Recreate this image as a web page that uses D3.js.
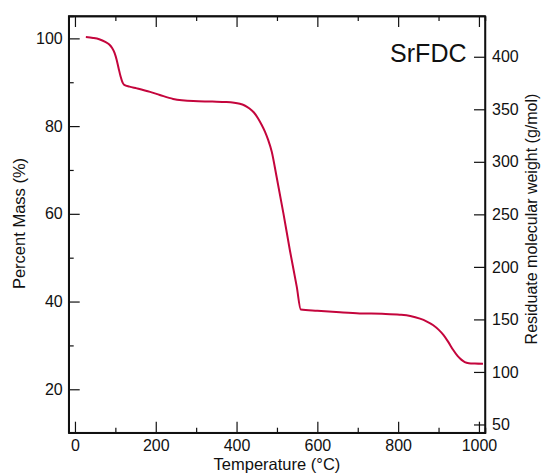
<!DOCTYPE html>
<html>
<head>
<meta charset="utf-8">
<script src="https://cdn.jsdelivr.net/npm/d3@7"></script>
<style>
  body { margin: 0; background: #fff; }
  text { font-family: "Liberation Sans", Arial, Helvetica, sans-serif; fill: #111; }
  .axis path, .axis line { stroke: #111; }
</style>
</head>
<body>
<div class="tga-graph"></div>
<script>
const temps = [27, 45, 60, 75, 85, 92, 98, 103, 108, 113, 118, 122, 135, 153, 186, 210, 243, 293, 340, 375,
  408, 420, 432, 443, 453, 462, 470, 478, 487, 499, 516, 532, 549, 559, 600, 656, 705, 760,
  804, 830, 854, 870, 887, 900, 912, 924, 936, 947, 957, 965, 975, 990, 1010];
const mass = [100.3, 100.1, 99.8, 99.2, 98.6, 97.8, 96.7, 95.2, 93.2, 91.3, 89.9, 89.4, 89.0, 88.6, 87.8, 87.1, 86.2, 85.7, 85.6, 85.5,
  85.1, 84.7, 84.0, 83.1, 81.8, 80.3, 78.8, 76.9, 74.2, 68.5, 60.1, 51.7, 43.4, 38.2, 37.9, 37.55, 37.3, 37.2,
  37.0, 36.7, 36.1, 35.5, 34.6, 33.6, 32.4, 30.8, 29.0, 27.6, 26.7, 26.2, 25.95, 25.85, 25.8];

const xMajor = [0, 200, 400, 600, 800, 1000];
const xMinor = [100, 300, 500, 700, 900];
const yMajor = [20, 40, 60, 80, 100];
const yMinor = [30, 50, 70, 90];
const rMajor = [50, 100, 150, 200, 250, 300, 350, 400];
const molarMass = 417.5;
const sampleName = "SrFDC";

const width = 545, height = 476;
const margin = { top: 16, right: 60, bottom: 43.3, left: 68.7 };
const w = width - margin.left - margin.right;
const h = height - margin.top - margin.bottom;

const svg = d3.select(".tga-graph").append("svg")
  .attr("width", width)
  .attr("height", height);

const g = svg.append("g")
  .attr("transform", `translate(${margin.left},${margin.top})`);

const x = d3.scaleLinear().domain([-15.5, 1015]).range([0, w]);
const y = d3.scaleLinear().domain([10.1, 105.1]).range([h, 0]);
const yR = d3.scaleLinear().domain(y.domain().map(d => d * molarMass / 100)).range([h, 0]);
const fmt = d3.format("d");

// minor ticks
g.append("g").attr("class", "axis").attr("transform", `translate(0,${h})`)
  .call(d3.axisBottom(x).tickValues(xMinor).tickSize(-5).tickFormat(""));
g.append("g").attr("class", "axis")
  .call(d3.axisTop(x).tickValues(xMinor).tickSize(-5).tickFormat(""));
g.append("g").attr("class", "axis")
  .call(d3.axisLeft(y).tickValues(yMinor).tickSize(-5).tickFormat(""));

// major ticks
g.append("g").attr("class", "axis").attr("transform", `translate(0,${h})`)
  .call(d3.axisBottom(x).tickValues(xMajor).tickSize(-11).tickPadding(7).tickSizeOuter(0).tickFormat(fmt))
  .selectAll("text").style("font-size", "16px");
g.append("g").attr("class", "axis")
  .call(d3.axisTop(x).tickValues(xMajor).tickSize(-11).tickFormat("").tickSizeOuter(0));
g.append("g").attr("class", "axis")
  .call(d3.axisLeft(y).tickValues(yMajor).tickSize(-11).tickPadding(6).tickSizeOuter(0).tickFormat(fmt))
  .selectAll("text").style("font-size", "16px");
g.append("g").attr("class", "axis").attr("transform", `translate(${w},0)`)
  .call(d3.axisRight(yR).tickValues(rMajor).tickSize(-11).tickPadding(7).tickSizeOuter(0).tickFormat(fmt))
  .selectAll("text").style("font-size", "16px");

g.selectAll(".axis path").attr("stroke-width", 1.5);
g.selectAll(".axis line").attr("stroke-width", 1.2);

// frame
g.append("rect")
  .attr("width", w).attr("height", h)
  .attr("fill", "none").attr("stroke", "#111").attr("stroke-width", 1.5);

const line = d3.line()
  .x((d, i) => x(temps[i]))
  .y(d => y(d))
  .curve(d3.curveMonotoneX);

g.append("path")
  .datum(mass)
  .attr("fill", "none")
  .attr("stroke", "#c4053c")
  .attr("stroke-width", 2)
  .attr("d", line);

g.append("text")
  .attr("x", w - 18.5).attr("y", 45.5)
  .attr("text-anchor", "end")
  .style("font-size", "25px")
  .text(sampleName);

svg.append("text")
  .attr("x", margin.left + x(500)).attr("y", 469.5)
  .attr("text-anchor", "middle")
  .style("font-size", "16.5px")
  .text("Temperature (°C)");

svg.append("text")
  .attr("transform", "translate(25,223.5) rotate(-90)")
  .attr("text-anchor", "middle")
  .style("font-size", "16.5px")
  .text("Percent Mass (%)");

svg.append("text")
  .attr("transform", "translate(536.5,219) rotate(-90)")
  .attr("text-anchor", "middle")
  .style("font-size", "16px")
  .text("Residuate molecular weight (g/mol)");
</script>
</body>
</html>
